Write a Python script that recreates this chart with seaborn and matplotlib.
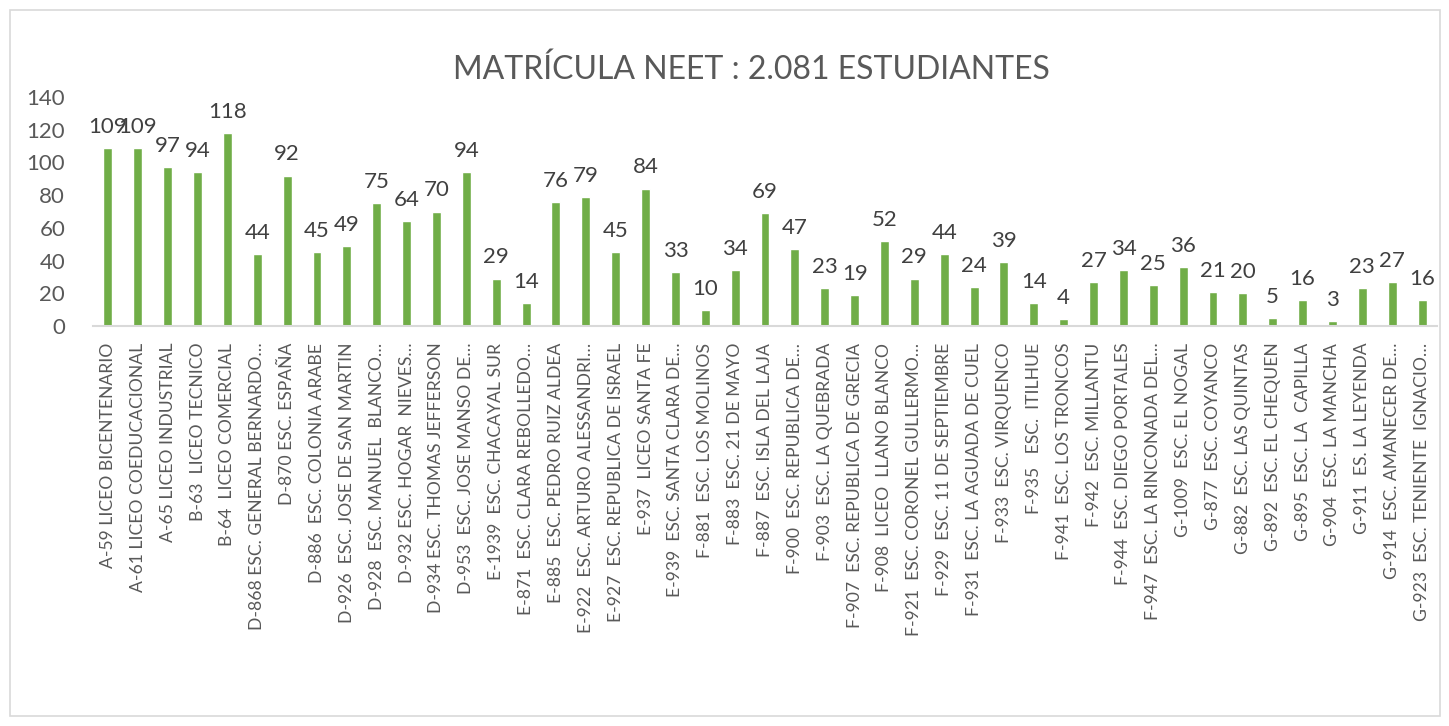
import matplotlib
matplotlib.use("Agg")
import matplotlib.pyplot as plt
import seaborn as sns
import pandas as pd
from matplotlib.patches import Rectangle

schools = [
    "A-59 LICEO BICENTENARIO",
    "A-61 LICEO COEDUCACIONAL",
    "A-65 LICEO INDUSTRIAL",
    "B-63  LICEO TECNICO",
    "B-64  LICEO COMERCIAL",
    "D-868 ESC. GENERAL BERNARDO…",
    "D-870 ESC. ESPAÑA",
    "D-886  ESC. COLONIA ARABE",
    "D-926  ESC. JOSE DE SAN MARTIN",
    "D-928  ESC. MANUEL  BLANCO…",
    "D-932 ESC. HOGAR  NIEVES…",
    "D-934 ESC. THOMAS JEFFERSON",
    "D-953  ESC. JOSE MANSO DE…",
    "E-1939  ESC. CHACAYAL SUR",
    "E-871  ESC. CLARA REBOLLEDO…",
    "E-885  ESC. PEDRO RUIZ ALDEA",
    "E-922  ESC. ARTURO ALESSANDRI…",
    "E-927  ESC. REPUBLICA DE ISRAEL",
    "E-937  LICEO SANTA FE",
    "E-939  ESC. SANTA CLARA DE…",
    "F-881  ESC. LOS MOLINOS",
    "F-883  ESC. 21 DE MAYO",
    "F-887  ESC. ISLA DEL LAJA",
    "F-900  ESC. REPUBLICA DE…",
    "F-903  ESC. LA QUEBRADA",
    "F-907  ESC. REPUBLICA DE GRECIA",
    "F-908  LICEO  LLANO BLANCO",
    "F-921  ESC. CORONEL GULLERMO…",
    "F-929  ESC. 11 DE SEPTIEMBRE",
    "F-931  ESC. LA AGUADA DE CUEL",
    "F-933  ESC. VIRQUENCO",
    "F-935   ESC.  ITILHUE",
    "F-941  ESC. LOS TRONCOS",
    "F-942  ESC. MILLANTU",
    "F-944  ESC. DIEGO PORTALES",
    "F-947  ESC. LA RINCONADA DEL…",
    "G-1009  ESC. EL NOGAL",
    "G-877  ESC. COYANCO",
    "G-882  ESC. LAS QUINTAS",
    "G-892  ESC. EL CHEQUEN",
    "G-895  ESC. LA  CAPILLA",
    "G-904  ESC. LA MANCHA",
    "G-911  ES. LA LEYENDA",
    "G-914  ESC. AMANECER DE…",
    "G-923  ESC. TENIENTE  IGNACIO…",
]
students = [109, 109, 97, 94, 118, 44, 92, 45, 49, 75, 64, 70, 94, 29, 14,
            76, 79, 45, 84, 33, 10, 34, 69, 47, 23, 19, 52, 29, 44, 24, 39,
            14, 4, 27, 34, 25, 36, 21, 20, 5, 16, 3, 23, 27, 16]
yticks = [0, 20, 40, 60, 80, 100, 120, 140]
title = "MATRÍCULA NEET : 2.081 ESTUDIANTES"

df = pd.DataFrame({"escuela": schools, "matricula": students})

sns.set_theme(style="white")
plt.rcParams["font.family"] = ["Lato", "DejaVu Sans"]

W, H = 1449, 726
fig = plt.figure(figsize=(W / 100, H / 100), dpi=100)
fig.patch.set_facecolor("white")
fig.patches.append(Rectangle((10 / W, 10 / H), 1430 / W, 706 / H,
                             transform=fig.transFigure, fill=False,
                             edgecolor="#D9D9D9", linewidth=1.2))

ax = fig.add_axes([93 / W, 1 - 326 / H, (1437 - 93) / W, (326 - 97) / H])
sns.barplot(data=df, x="escuela", y="matricula", color="#70AD47",
            width=0.3, saturation=1, ax=ax, errorbar=None)

ax.set_xlim(-0.5, len(schools) - 0.5)
ax.set_ylim(0, 140)
ax.set_yticks(yticks)
ax.set_yticklabels([str(t) for t in yticks], fontsize=16, color="#595959")
ax.tick_params(axis="y", length=0, pad=20)
ax.tick_params(axis="x", length=0, pad=12)
ax.set_xticks(range(len(schools)))
ax.set_xticklabels(schools, rotation=90, fontsize=12.6, color="#595959",
                   ha="center", va="top")
ax.set_xlabel("")
ax.set_ylabel("")
for s in ["top", "right", "left"]:
    ax.spines[s].set_visible(False)
ax.spines["bottom"].set_color("#D9D9D9")
ax.spines["bottom"].set_linewidth(1.5)

for i, v in enumerate(students):
    ax.annotate(str(v), (i, v), xytext=(0, 8), textcoords="offset points",
                ha="center", va="bottom", fontsize=16, color="#404040")

fig.text(751 / W, 1 - 70 / H, title, ha="center", va="center",
         fontsize=23, color="#595959")

fig.savefig("out.png", dpi=100)
